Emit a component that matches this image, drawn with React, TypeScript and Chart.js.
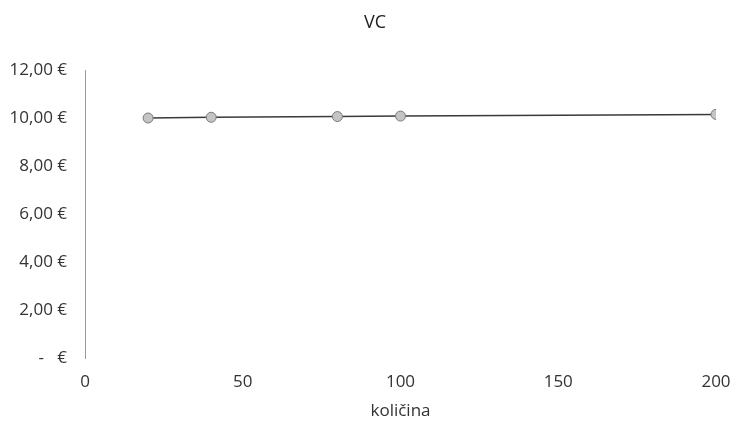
import React, { useEffect, useRef } from "react";
import { Chart, registerables } from "chart.js";

Chart.register(...registerables);

const quantities = [20, 40, 80, 100, 200];
const vcValues = [10.0, 10.03, 10.06, 10.08, 10.15];
const chartTitle = "VC";
const xAxisTitle = "količina";

const fmtEuro = (v: number) => {
  if (v === 0) return "-   €";
  return v.toFixed(2).replace(".", ",") + " €";
};

const font = "'Open Sans', 'Noto Sans', sans-serif";

const titlePlugin = {
  id: "offsetTitle",
  afterDraw(chart: any) {
    const ctx = chart.ctx;
    ctx.save();
    ctx.font = `18px ${font}`;
    ctx.fillStyle = "#222";
    ctx.textAlign = "center";
    ctx.textBaseline = "middle";
    ctx.fillText(chartTitle, 375, 23);
    ctx.restore();
  },
};

export default function App() {
  const ref = useRef<HTMLCanvasElement | null>(null);
  useEffect(() => {
    if (!ref.current) return;
    const chart = new Chart(ref.current, {
      type: "line",
      data: {
        datasets: [
          {
            label: chartTitle,
            data: quantities.map((q, i) => ({ x: q, y: vcValues[i] })),
            borderColor: "#3a3a3a",
            borderWidth: 1.5,
            backgroundColor: "#c4c4c4",
            pointBackgroundColor: "#c4c4c4",
            pointBorderColor: "#7a7a7a",
            pointBorderWidth: 1,
            pointRadius: 5,
            tension: 0,
          },
        ],
      },
      plugins: [titlePlugin],
      options: {
        animation: false,
        responsive: false,
        layout: { padding: { top: 70, right: 14, left: 0, bottom: 0 } },
        plugins: {
          legend: { display: false },
          tooltip: { enabled: false },
          title: { display: false },
        },
        scales: {
          x: {
            type: "linear",
            min: 0,
            max: 200,
            ticks: {
              stepSize: 50,
              color: "#333",
              font: { family: font, size: 17 },
              padding: 14,
            },
            grid: { display: false, drawTicks: false },
            border: { display: false },
            title: {
              display: true,
              text: xAxisTitle,
              color: "#333",
              font: { family: font, size: 17 },
              padding: { top: 0, bottom: 0 },
            },
            afterFit: (s: any) => {
              s.height = 63;
              s.paddingLeft = 0;
              s.paddingRight = 0;
            },
          },
          y: {
            min: 0,
            max: 12,
            ticks: {
              stepSize: 2,
              color: "#333",
              font: { family: font, size: 17 },
              padding: 18,
              callback: (v: any) => fmtEuro(Number(v)),
            },
            grid: { display: false, drawTicks: false },
            border: { display: true, color: "#9a9a9a", width: 1, dash: [2, 2] },
            afterFit: (s: any) => {
              s.width = 85;
              s.paddingTop = 0;
              s.paddingBottom = 0;
            },
          },
        },
      },
    });
    return () => chart.destroy();
  }, []);
  return (
    <div style={{ position: "fixed", left: 0, top: 0, width: 730, height: 421, background: "#fff" }}>
      <canvas ref={ref} width={730} height={421} />
    </div>
  );
}
